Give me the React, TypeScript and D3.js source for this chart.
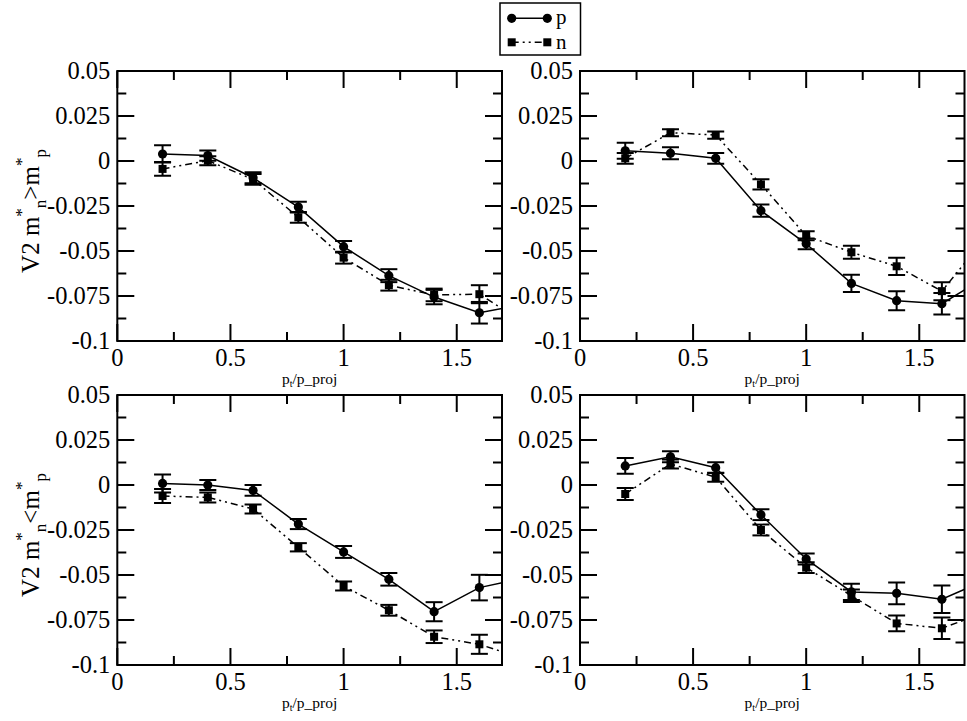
import React from "react";
import * as d3 from "d3";

const xs = [0.2, 0.4, 0.6, 0.8, 1.0, 1.2, 1.4, 1.6, 1.8];

// Panel A: top-left (m_n* > m_p*)
const pA = [0.0039, 0.003, -0.0093, -0.0256, -0.0476, -0.0637, -0.0756, -0.0843, -0.0795];
const pAErr = [0.0048, 0.0028, 0.003, 0.003, 0.0032, 0.0036, 0.004, 0.006, 0.005];
const nA = [-0.0044, 0.0002, -0.0102, -0.0313, -0.0537, -0.069, -0.0744, -0.074, -0.09];
const nAErr = [0.0038, 0.0025, 0.003, 0.003, 0.0033, 0.003, 0.0035, 0.005, 0.005];

// Panel B: top-right
const pB = [0.0057, 0.0043, 0.0015, -0.0276, -0.046, -0.068, -0.0776, -0.0793, -0.064];
const pBErr = [0.0045, 0.0033, 0.003, 0.0034, 0.003, 0.0048, 0.0053, 0.006, 0.005];
const nB = [0.0015, 0.0157, 0.0144, -0.013, -0.0415, -0.0507, -0.0585, -0.0723, -0.0413];
const nBErr = [0.003, 0.002, 0.002, 0.0028, 0.0025, 0.0036, 0.0048, 0.005, 0.005];

// Panel C: bottom-left (m_n* < m_p*)
const pC = [0.0009, 0, -0.003, -0.0217, -0.0372, -0.0524, -0.0704, -0.057, -0.0516];
const pCErr = [0.005, 0.0028, 0.003, 0.0028, 0.0033, 0.0035, 0.0053, 0.0071, 0.005];
const nC = [-0.0061, -0.0069, -0.0133, -0.0346, -0.0561, -0.0696, -0.0843, -0.0885, -0.0967];
const nCErr = [0.0039, 0.0028, 0.0025, 0.0023, 0.0025, 0.003, 0.0035, 0.0053, 0.005];

// Panel D: bottom-right
const pD = [0.0106, 0.0157, 0.0096, -0.0165, -0.0411, -0.0594, -0.0602, -0.0635, -0.0525];
const pDErr = [0.0044, 0.003, 0.003, 0.003, 0.003, 0.0045, 0.006, 0.0076, 0.005];
const nD = [-0.005, 0.0117, 0.0043, -0.025, -0.0459, -0.0615, -0.0769, -0.0796, -0.0704];
const nDErr = [0.0033, 0.0025, 0.0025, 0.003, 0.003, 0.0035, 0.0044, 0.006, 0.005];

const xMajor = [0, 0.5, 1, 1.5];
const xMinor = [0.25, 0.75, 1.25];
const xTickLabels = ["0", "0.5", "1", "1.5"];
const yMajor = [-0.1, -0.075, -0.05, -0.025, 0, 0.025, 0.05];
const yMinor = [-0.0875, -0.0625, -0.0375, -0.0125, 0.0125, 0.0375];
const yTickLabels = ["-0.1", "-0.075", "-0.05", "-0.025", "0", "0.025", "0.05"];

const W = 967;
const H = 721;
const FONT = "Liberation Serif, Times New Roman, serif";
const DASH = "7,4,2,4,2,4";
const txtStyle = { fontFamily: FONT };

type PanelProps = {
  id: string;
  left: number;
  right: number;
  top: number;
  bottom: number;
  p: number[];
  pErr: number[];
  n: number[];
  nErr: number[];
  yTitle?: "gt" | "lt";
};

function Panel({ id, left, right, top, bottom, p, pErr, n, nErr, yTitle }: PanelProps) {
  const x = d3.scaleLinear().domain([0, 1.7]).range([left, right]);
  const y = d3.scaleLinear().domain([-0.1, 0.05]).range([bottom, top]);
  const line = d3
    .line<[number, number]>()
    .x((d) => x(d[0]))
    .y((d) => y(d[1]));
  const pPts: [number, number][] = xs.map((v, i) => [v, p[i]]);
  const nPts: [number, number][] = xs.map((v, i) => [v, n[i]]);
  const majL = 17;
  const minL = 9;
  const cap = 8.5;
  const midY = (top + bottom) / 2 + 5;
  const midX = (left + right) / 2;

  const errBars = (vals: number[], errs: number[], key: string) =>
    xs.map((v, i) => {
      const cx = x(v);
      const y1 = y(vals[i] + errs[i]);
      const y2 = y(vals[i] - errs[i]);
      return (
        <g key={key + i} stroke="#000" strokeWidth={2}>
          <line x1={cx} x2={cx} y1={y1} y2={y2} />
          <line x1={cx - cap} x2={cx + cap} y1={y1} y2={y1} />
          <line x1={cx - cap} x2={cx + cap} y1={y2} y2={y2} />
        </g>
      );
    });

  return (
    <g>
      <defs>
        <clipPath id={"clip" + id}>
          <rect x={left} y={top} width={right - left} height={bottom - top} />
        </clipPath>
      </defs>
      <g clipPath={`url(#clip${id})`}>
        <path d={line(nPts) || ""} fill="none" stroke="#000" strokeWidth={1.5} strokeDasharray={DASH} />
        <path d={line(pPts) || ""} fill="none" stroke="#000" strokeWidth={1.5} />
        {errBars(n, nErr, "ne")}
        {errBars(p, pErr, "pe")}
        {nPts.map((d, i) => (
          <rect key={"ns" + i} x={x(d[0]) - 4} y={y(d[1]) - 4} width={8} height={8} fill="#000" />
        ))}
        {pPts.map((d, i) => (
          <circle key={"pc" + i} cx={x(d[0])} cy={y(d[1])} r={4.6} fill="#000" />
        ))}
      </g>
      <g stroke="#000" strokeWidth={2}>
        {xMajor.map((v) => (
          <g key={"xm" + v}>
            <line x1={x(v)} x2={x(v)} y1={bottom} y2={bottom - majL} />
            <line x1={x(v)} x2={x(v)} y1={top} y2={top + majL} />
          </g>
        ))}
        {xMinor.map((v) => (
          <g key={"xn" + v}>
            <line x1={x(v)} x2={x(v)} y1={bottom} y2={bottom - minL} />
            <line x1={x(v)} x2={x(v)} y1={top} y2={top + minL} />
          </g>
        ))}
        {yMajor.map((v) => (
          <g key={"ym" + v}>
            <line x1={left} x2={left + majL} y1={y(v)} y2={y(v)} />
            <line x1={right} x2={right - majL} y1={y(v)} y2={y(v)} />
          </g>
        ))}
        {yMinor.map((v) => (
          <g key={"yn" + v}>
            <line x1={left} x2={left + minL} y1={y(v)} y2={y(v)} />
            <line x1={right} x2={right - minL} y1={y(v)} y2={y(v)} />
          </g>
        ))}
      </g>
      <rect x={left} y={top} width={right - left} height={bottom - top} fill="none" stroke="#000" strokeWidth={2} />
      {xMajor.map((v, i) => (
        <text key={"xl" + v} x={x(v)} y={bottom + 25} textAnchor="middle" style={txtStyle} fontSize={24.5} fill="#000">
          {xTickLabels[i]}
        </text>
      ))}
      {yMajor.map((v, i) => (
        <text key={"yl" + v} x={left - 7} y={y(v) + 8} textAnchor="end" style={txtStyle} fontSize={24.5} fill="#000">
          {yTickLabels[i]}
        </text>
      ))}
      <text x={midX} y={bottom + 43} textAnchor="middle" style={txtStyle} fontSize={15.5} fill="#000">
        p
        <tspan fontSize={10} dy={3}>t</tspan>
        <tspan dy={-3}>/p_proj</tspan>
      </text>
      {yTitle && (
        <text
          transform={`translate(39,${midY}) rotate(-90)`}
          textAnchor="middle"
          style={txtStyle}
          fontSize={25}
          fill="#000"
        >
          V2 m
          <tspan fontSize={17} dy={-12}>*</tspan>
          <tspan fontSize={17} dy={19}>n</tspan>
          <tspan dy={-7}>{yTitle === "gt" ? ">" : "<"}m</tspan>
          <tspan fontSize={17} dy={-12}>*</tspan>
          <tspan fontSize={17} dy={19}>p</tspan>
        </text>
      )}
    </g>
  );
}

export default function App() {
  const L1 = 117.3;
  const R1 = 502;
  const L2 = 580;
  const R2 = 964.5;
  const T1 = 71;
  const B1 = 341;
  const T2 = 395;
  const B2 = 665;
  return (
    <svg
      width={W}
      height={H}
      style={{ position: "absolute", left: 0, top: 0, background: "#fff" }}
      viewBox={`0 0 ${W} ${H}`}
    >
      <rect x={0} y={0} width={W} height={H} fill="#fff" />
      <Panel id="A" left={L1} right={R1} top={T1} bottom={B1} p={pA} pErr={pAErr} n={nA} nErr={nAErr} yTitle="gt" />
      <Panel id="B" left={L2} right={R2} top={T1} bottom={B1} p={pB} pErr={pBErr} n={nB} nErr={nBErr} />
      <Panel id="C" left={L1} right={R1} top={T2} bottom={B2} p={pC} pErr={pCErr} n={nC} nErr={nCErr} yTitle="lt" />
      <Panel id="D" left={L2} right={R2} top={T2} bottom={B2} p={pD} pErr={pDErr} n={nD} nErr={nDErr} />
      <g>
        <rect x={500} y={3} width={80.5} height={52} fill="#fff" stroke="#000" strokeWidth={1.5} />
        <line x1={511.7} x2={547.3} y1={18.3} y2={18.3} stroke="#000" strokeWidth={1.5} />
        <circle cx={511.7} cy={18.3} r={4.6} fill="#000" />
        <circle cx={547.3} cy={18.3} r={4.6} fill="#000" />
        <line x1={511.7} x2={547.3} y1={42.3} y2={42.3} stroke="#000" strokeWidth={1.5} strokeDasharray={DASH} />
        <rect x={507.7} y={38.3} width={8} height={8} fill="#000" />
        <rect x={543.3} y={38.3} width={8} height={8} fill="#000" />
        <text x={556} y={24} style={txtStyle} fontSize={21} fill="#000">p</text>
        <text x={556} y={48.5} style={txtStyle} fontSize={21} fill="#000">n</text>
      </g>
    </svg>
  );
}
